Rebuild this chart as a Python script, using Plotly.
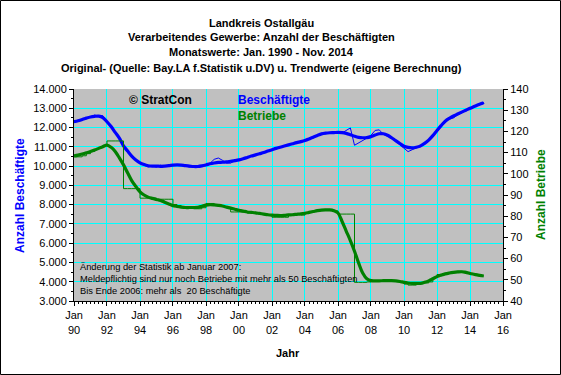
import plotly.graph_objects as go

# ---------------- data (quarterly: Jan, Apr, Jul, Oct of each year, plus Nov 2014) -------------
years = list(range(1990, 2015))
months = [1, 4, 7, 10]
dates = [f"{y}-{m:02d}-01" for y in years for m in months] + ["2014-11-01"]

besch_orig = [
    12250, 12380, 12400, 12500,
    12520, 12650, 12600, 12620,
    12250, 12100, 11750, 11400,
    11000, 10700, 10500, 10280,
    10150, 10050, 9950, 10000,
    9950, 10050, 9980, 10000,
    10080, 10040, 10070, 10000,
    9950, 9950, 9980, 10000,
    10100, 10150, 10350, 10420,
    10300, 10150, 10150, 10300,
    10330, 10370, 10440, 10520,
    10570, 10680, 10680, 10800,
    10860, 10900, 11000, 11020,
    11120, 11150, 11200, 11250,
    11300, 11450, 11500, 11580,
    11700, 11680, 11750, 11720,
    11780, 11720, 11850, 11980,
    11080, 11200, 11300, 11450,
    11600, 11850, 11880, 11650,
    11550, 11450, 11280, 11100,
    10900, 10750, 10850, 10950,
    11000, 11150, 11300, 11520,
    11800, 12050, 12300, 12450,
    12500, 12650, 12780, 12880,
    12960, 13050, 13150, 13250,
    13300,
]

besch_trend = [
    12300, 12350, 12420, 12490,
    12550, 12580, 12590, 12520,
    12300, 12050, 11750, 11450,
    11050, 10780, 10520, 10320,
    10170, 10080, 10020, 10000,
    10000, 9990, 10000, 10020,
    10050, 10060, 10050, 10020,
    10000, 9980, 9980, 10010,
    10060, 10120, 10160, 10190,
    10200, 10220, 10250, 10280,
    10320, 10380, 10450, 10520,
    10580, 10640, 10700, 10780,
    10850, 10920, 10980, 11040,
    11100, 11160, 11220, 11270,
    11330, 11410, 11500, 11590,
    11670, 11710, 11730, 11740,
    11750, 11740, 11700, 11630,
    11550, 11490, 11470, 11480,
    11530, 11610, 11680, 11680,
    11600, 11470, 11320, 11170,
    11030, 10970, 10950, 10980,
    11050, 11180, 11350, 11580,
    11850, 12100, 12330, 12480,
    12600, 12700, 12800, 12900,
    13000, 13090, 13180, 13260,
    13300,
]

betr_orig = [
    108.0, 108.0, 108.5, 109.5,
    110.5, 111.5, 112.5, 113.5,
    115.5, 115.5, 115.5, 115.5,
    93.0, 93.0, 93.0, 93.0,
    88.5, 88.5, 88.5, 88.5,
    88.0, 88.0, 88.0, 88.0,
    85.5, 85.0, 84.5, 84.0,
    84.0, 83.5, 83.5, 84.0,
    86.0, 86.0, 85.5, 85.0,
    84.5, 84.0, 82.0, 82.0,
    82.0, 82.0, 81.5, 81.5,
    81.5, 81.0, 81.0, 80.5,
    79.5, 79.5, 79.5, 79.5,
    80.5, 81.0, 81.0, 80.5,
    81.5, 82.0, 82.5, 83.0,
    83.0, 83.0, 83.0, 82.5,
    81.0, 81.0, 81.0, 81.0,
    48.8, 48.8, 48.8, 49.0,
    49.5, 49.5, 49.5, 49.8,
    49.5, 49.3, 49.2, 49.0,
    48.0, 47.5, 47.5, 48.0,
    48.5, 48.5, 49.0, 51.0,
    52.5, 52.5, 53.0, 53.5,
    53.8, 54.0, 54.0, 53.5,
    52.5, 52.2, 52.0, 51.8,
    51.8,
]

betr_trend = [
    108.4, 108.8, 109.3, 109.9,
    110.5, 111.2, 112.0, 112.8,
    113.5, 112.5, 110.5, 107.5,
    104.2, 100.5, 96.8, 94.0,
    91.5, 90.0, 89.0, 88.4,
    87.9, 87.4, 86.6, 85.8,
    85.0, 84.6, 84.3, 84.1,
    84.1, 84.1, 84.2, 84.7,
    85.2, 85.4, 85.3, 85.1,
    84.8, 84.3, 83.8, 83.3,
    82.8, 82.4, 82.0, 81.8,
    81.6, 81.3, 81.0, 80.7,
    80.5, 80.4, 80.3, 80.4,
    80.6, 80.7, 80.9, 81.1,
    81.4, 81.8, 82.2, 82.6,
    82.9, 83.0, 83.0, 82.6,
    81.5, 77.5, 73.0, 68.5,
    63.5, 58.0, 53.2, 50.5,
    49.6, 49.5, 49.5, 49.6,
    49.6, 49.6, 49.5, 49.2,
    48.8, 48.5, 48.3, 48.3,
    48.3, 48.8, 49.5, 50.5,
    51.5, 52.2, 52.8, 53.2,
    53.5, 53.7, 53.8, 53.5,
    53.0, 52.6, 52.2, 51.9,
    51.8,
]

x_tick_start = "1990-01-01"
x_range = ["1990-01-01", "2016-01-01"]
left_range = [3000, 14000]
right_range = [40, 140]

# ---------------- figure ----------------
W, H = 561, 375
L, R, T, B = 74, 58, 89, 74
PW, PH = W - L - R, H - T - B

def px(xp):
    return (xp - L) / PW

def py(yp):
    return (H - B - yp) / PH

BLUE = "#0000FF"
GREEN = "#008000"
FONT = "Liberation Sans, Arial, sans-serif"

fig = go.Figure()
fig.add_trace(go.Scatter(x=dates, y=betr_orig, yaxis="y2", mode="lines",
                         line=dict(color=GREEN, width=1, shape="hv"), hoverinfo="skip"))
fig.add_trace(go.Scatter(x=dates, y=betr_trend, yaxis="y2", mode="lines",
                         line=dict(color=GREEN, width=3.2, shape="spline"), hoverinfo="skip"))
fig.add_trace(go.Scatter(x=dates, y=besch_orig, mode="lines",
                         line=dict(color=BLUE, width=1), hoverinfo="skip"))
fig.add_trace(go.Scatter(x=dates, y=besch_trend, mode="lines",
                         line=dict(color=BLUE, width=3.2, shape="spline"), hoverinfo="skip"))

tickfont = dict(family=FONT, size=11, color="black")

fig.update_layout(
    width=W, height=H,
    margin=dict(l=L, r=R, t=T, b=B, pad=0),
    paper_bgcolor="white",
    plot_bgcolor="#C0C0C0",
    showlegend=False,
    separators=",.",
    font=dict(family=FONT, size=11, color="black"),
    xaxis=dict(
        type="date", range=x_range, tick0=x_tick_start, dtick="M24",
        tickformat="%b<br>%y", tickfont=tickfont,
        showgrid=True, gridcolor="#00FFFF", gridwidth=1,
        showline=True, linecolor="black", linewidth=1,
        ticks="outside", ticklen=4, tickcolor="black",
        minor=dict(dtick="M3", ticks="outside", ticklen=2, tickcolor="black", showgrid=False),
        zeroline=False, fixedrange=True,
    ),
    yaxis=dict(
        range=left_range, dtick=1000, tickformat=",d", tickfont=tickfont,
        showgrid=True, gridcolor="#00FFFF", gridwidth=1,
        showline=True, linecolor="black", linewidth=1,
        ticks="outside", ticklen=4, tickcolor="black",
        minor=dict(dtick=500, ticks="outside", ticklen=2, tickcolor="black", showgrid=False),
        zeroline=False, fixedrange=True,
    ),
    yaxis2=dict(
        range=right_range, dtick=10, overlaying="y", side="right", tickfont=tickfont,
        showgrid=False, showline=True, linecolor="black", linewidth=1,
        ticks="outside", ticklen=4, tickcolor="black",
        minor=dict(dtick=5, ticks="outside", ticklen=2, tickcolor="black"),
        zeroline=False, fixedrange=True,
    ),
)

titles = [
    "Landkreis Ostallgäu",
    "Verarbeitendes Gewerbe: Anzahl der Beschäftigten",
    "Monatswerte: Jan. 1990 - Nov. 2014",
    "Original- (Quelle: Bay.LA f.Statistik u.DV) u. Trendwerte (eigene Berechnung)",
]
title_y = [22.5, 37.5, 52.5, 67.5]
for t, yy in zip(titles, title_y):
    fig.add_annotation(text=f"<b>{t}</b>", xref="paper", yref="paper", x=px(261), y=py(yy),
                       xanchor="center", yanchor="middle", showarrow=False,
                       font=dict(family=FONT, size=11, color="black"))

fig.add_annotation(text="<b>© StratCon</b>", xref="paper", yref="paper", x=px(127), y=py(100),
                   xanchor="left", yanchor="middle", showarrow=False,
                   font=dict(family=FONT, size=12, color="black"))
fig.add_annotation(text="<b>Beschäftigte</b>", xref="paper", yref="paper", x=px(236), y=py(100),
                   xanchor="left", yanchor="middle", showarrow=False,
                   font=dict(family=FONT, size=12, color=BLUE))
fig.add_annotation(text="<b>Betriebe</b>", xref="paper", yref="paper", x=px(236), y=py(116),
                   xanchor="left", yanchor="middle", showarrow=False,
                   font=dict(family=FONT, size=12, color=GREEN))

fig.add_annotation(
    text="Änderung der Statistik ab Januar 2007:<br>"
         "Meldepflichtig sind nur noch Betriebe mit mehr als 50 Beschäftigten<br>"
         "Bis Ende 2006: mehr als\u00a0 20 Beschäftigte",
    xref="paper", yref="paper", x=px(78), y=py(278.5), xanchor="left", yanchor="middle",
    align="left", showarrow=False, font=dict(family=FONT, size=9.3, color="black"))

fig.add_annotation(text="<b>Anzahl Beschäftigte</b>", xref="paper", yref="paper", x=px(20), y=py(195),
                   xanchor="center", yanchor="middle", textangle=-90, showarrow=False,
                   font=dict(family=FONT, size=12, color=BLUE))
fig.add_annotation(text="<b>Anzahl Betriebe</b>", xref="paper", yref="paper", x=px(541), y=py(195),
                   xanchor="center", yanchor="middle", textangle=-90, showarrow=False,
                   font=dict(family=FONT, size=12, color=GREEN))
fig.add_annotation(text="<b>Jahr</b>", xref="paper", yref="paper", x=px(288), y=py(353),
                   xanchor="center", yanchor="middle", showarrow=False,
                   font=dict(family=FONT, size=11, color="black"))

# outer frame
fig.add_shape(type="rect", xref="paper", yref="paper",
              x0=px(0.5), x1=px(W - 0.5), y0=py(H - 0.5), y1=py(0.5),
              line=dict(color="black", width=1), layer="above")

fig.write_html("out.html", config={"displayModeBar": False},
               post_script="document.body.style.margin='0px';")
